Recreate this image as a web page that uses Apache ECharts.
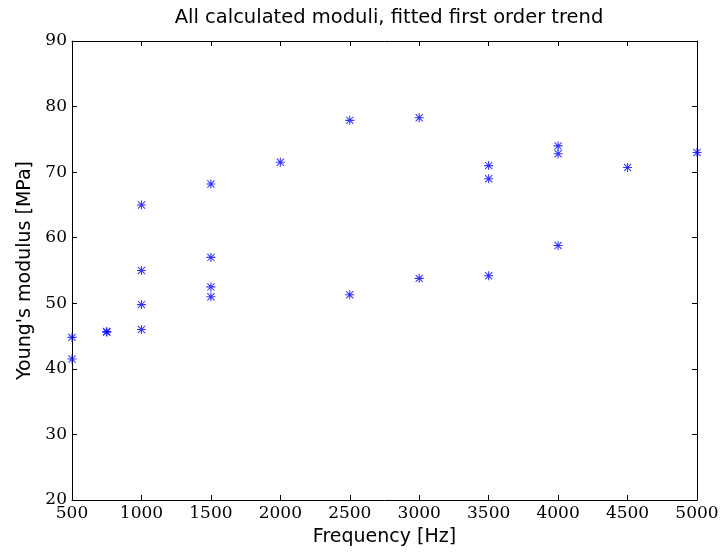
<!DOCTYPE html>
<html>
<head>
<meta charset="utf-8">
<script src="https://cdn.jsdelivr.net/npm/echarts@6/dist/echarts.min.js"></script>
<style>
  html, body { margin: 0; padding: 0; background: #fff; }
  #chart { width: 725px; height: 553px; }
</style>
</head>
<body>
<div id="chart"></div>
<script>
const frequency = [500, 500, 750, 750, 1000, 1000, 1000, 1000, 1500, 1500, 1500, 1500,
  2000, 2500, 2500, 3000, 3000, 3500, 3500, 3500, 4000, 4000, 4000, 4500, 5000];
const modulus = [44.8, 41.5, 45.6, 45.7, 65.0, 55.0, 49.8, 46.0, 68.2, 57.0, 52.5, 51.0,
  71.5, 77.9, 51.3, 78.3, 53.8, 71.0, 69.0, 54.2, 74.0, 72.8, 58.8, 70.7, 73.0];

const xTicks = [500, 1000, 1500, 2000, 2500, 3000, 3500, 4000, 4500, 5000];
const yTicks = [20, 30, 40, 50, 60, 70, 80, 90];

// asterisk marker (matlab '*')
const STAR = 'path://M8.8,0L11.2,0L11.2,20L8.8,20Z M0,8.8L20,8.8L20,11.2L0,11.2Z ' +
  'M1.2,2.8L2.8,1.2L18.8,17.2L17.2,18.8Z M17.2,1.2L18.8,2.8L2.8,18.8L1.2,17.2Z';

const tickFont = { fontFamily: 'DejaVu Serif', fontSize: 17, color: '#000' };
const lineStyle = { color: '#000', width: 1 };

const xBase = {
  type: 'value', min: 500, max: 5000, interval: 500,
  splitLine: { show: false },
  axisLine: { show: true, onZero: false, lineStyle },
  axisTick: { show: true, inside: true, length: 5, lineStyle },
};
const yBase = {
  type: 'value', min: 20, max: 90, interval: 10,
  splitLine: { show: false },
  axisLine: { show: true, onZero: false, lineStyle },
  axisTick: { show: true, inside: true, length: 5, lineStyle },
};

const chart = echarts.init(document.getElementById('chart'));
chart.setOption({
  animation: false,
  title: {
    text: 'All calculated moduli, fitted first order trend',
    left: 384, top: 3, textAlign: 'center',
    textStyle: { fontFamily: 'DejaVu Sans', fontSize: 19.5, fontWeight: 'normal', color: '#000' },
  },
  grid: { left: 72, right: 28, top: 41, bottom: 53 },
  xAxis: [
    {
      ...xBase,
      position: 'bottom',
      name: 'Frequency [Hz]',
      nameLocation: 'middle',
      nameGap: 28,
      nameTextStyle: { fontFamily: 'DejaVu Sans', fontSize: 19, color: '#000' },
      axisLabel: { ...tickFont, margin: 5, formatter: (v) => (xTicks.includes(v) ? String(v) : '') },
    },
    { ...xBase, position: 'top', axisLabel: { show: false } },
  ],
  yAxis: [
    {
      ...yBase,
      position: 'left',
      name: "Young's modulus [MPa]",
      nameLocation: 'middle',
      nameGap: 34,
      nameTextStyle: { fontFamily: 'DejaVu Sans', fontSize: 19, color: '#000' },
      axisLabel: { ...tickFont, margin: 5, formatter: (v) => (yTicks.includes(v) ? String(v) : '') },
    },
    { ...yBase, position: 'right', axisLabel: { show: false } },
  ],
  series: [
    {
      type: 'scatter',
      symbol: STAR,
      symbolSize: 9,
      itemStyle: { color: '#0000ff' },
      data: frequency.map((f, i) => [f, modulus[i]]),
    },
  ],
});
</script>
</body>
</html>
